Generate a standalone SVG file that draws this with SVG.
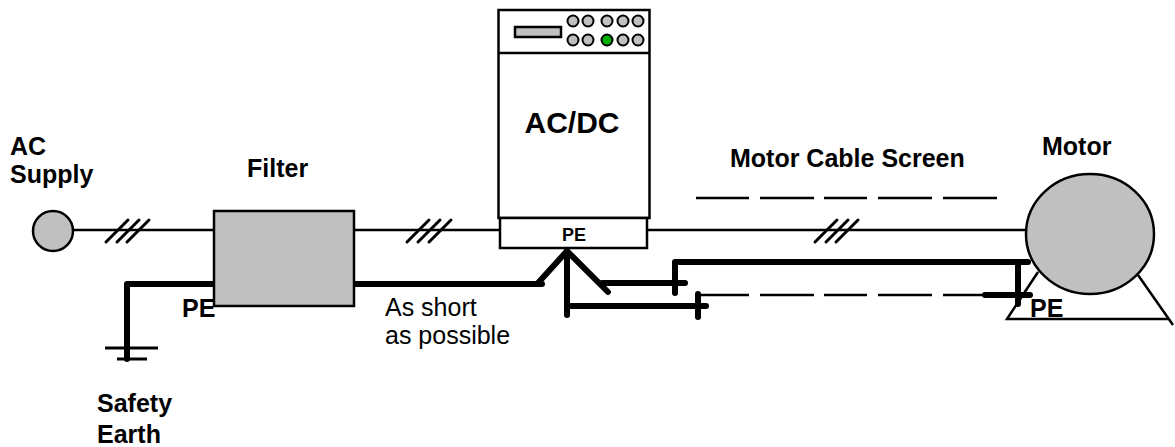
<svg xmlns="http://www.w3.org/2000/svg" width="1175" height="447" viewBox="0 0 1175 447">
<style>
.lbl{font-family:"Liberation Sans",Arial,sans-serif;font-weight:bold;font-size:25px;fill:#000}
.note{font-family:"Liberation Sans",Arial,sans-serif;font-size:25px;fill:#000}
.thin{stroke:#000;stroke-width:2.5;fill:none}
.thick{stroke:#000;stroke-width:6;fill:none;stroke-linecap:round;stroke-linejoin:round}
.hash{stroke:#000;stroke-width:3;stroke-linecap:round}
.box{stroke:#000;stroke-width:2.5}
.led{fill:#c0c0c0;stroke:#000;stroke-width:2}
</style>
<rect width="1175" height="447" fill="#fff"/>
<g id="connectors">
  <line class="thin" x1="74" y1="230" x2="214" y2="230"/>
  <line class="thin" x1="354" y1="230" x2="500" y2="230"/>
  <line class="thin" x1="647" y1="230" x2="1026" y2="230"/>
  <g id="hash1">
    <line class="hash" x1="106" y1="242" x2="128" y2="220"/>
    <line class="hash" x1="117" y1="242" x2="139" y2="220"/>
    <line class="hash" x1="127" y1="242" x2="149" y2="220"/>
  </g>
  <g id="hash2">
    <line class="hash" x1="407" y1="242" x2="429" y2="220"/>
    <line class="hash" x1="418" y1="242" x2="440" y2="220"/>
    <line class="hash" x1="429" y1="242" x2="451" y2="220"/>
  </g>
  <g id="hash3">
    <line class="hash" x1="815" y1="242" x2="837" y2="220"/>
    <line class="hash" x1="826" y1="242" x2="848" y2="220"/>
    <line class="hash" x1="836" y1="242" x2="858" y2="220"/>
  </g>
  <path class="thin" d="M696 198H749M760 198H814M824 198H867M878 198H932M943 198H997" stroke-width="3"/>
  <path class="thin" d="M698 295H749M760 295H814M824 295H867M878 295H932M943 295H985"/>
  <path class="thick" d="M127 359V284H214"/>
  <path class="thick" d="M354 284H542"/>
  <path class="thick" d="M538 283L567 251L608 292"/>
  <path class="thick" d="M567 251V315"/>
  <path class="thick" d="M567 306H706"/>
  <path class="thick" d="M698 294V317"/>
  <path class="thick" d="M602 283H685"/>
  <path class="thick" d="M675 293V262H1028"/>
  <path class="thick" d="M1018 262V304"/>
  <path class="thick" d="M985 295H1030"/>
</g>
<g id="safety-earth">
  <line x1="105" y1="348" x2="158" y2="348" stroke="#000" stroke-width="3"/>
  <line x1="117" y1="359" x2="147" y2="359" stroke="#000" stroke-width="3"/>
  <text class="lbl" x="97" y="412">Safety</text>
  <text class="lbl" x="97" y="443">Earth</text>
</g>
<g id="ac-supply">
  <circle cx="53" cy="231" r="20" fill="#c0c0c0" class="box"/>
  <text class="lbl" x="10" y="155">AC</text>
  <text class="lbl" x="10" y="183">Supply</text>
</g>
<g id="filter">
  <rect x="214" y="211" width="140" height="95" fill="#c0c0c0" class="box"/>
  <text class="lbl" x="247" y="177">Filter</text>
  <text class="lbl" x="182" y="317">PE</text>
</g>
<g id="drive">
  <rect x="498.5" y="10" width="151" height="208" fill="#fff" class="box"/>
  <line x1="498.5" y1="53" x2="649.5" y2="53" class="box"/>
  <rect x="515" y="27" width="46" height="10" fill="#c0c0c0" stroke="#000" stroke-width="2.5"/>
  <circle class="led" cx="573" cy="21" r="5.5"/>
  <circle class="led" cx="588" cy="21" r="5.5"/>
  <circle class="led" cx="607" cy="21" r="5.5"/>
  <circle class="led" cx="623" cy="21" r="5.5"/>
  <circle class="led" cx="638" cy="21" r="5.5"/>
  <circle class="led" cx="573" cy="40" r="5.5"/>
  <circle class="led" cx="588" cy="40" r="5.5"/>
  <circle class="led" cx="607" cy="40" r="5.5" style="fill:#00b000"/>
  <circle class="led" cx="623" cy="40" r="5.5"/>
  <circle class="led" cx="638" cy="40" r="5.5"/>
  <text class="lbl" x="572" y="133" text-anchor="middle" style="font-size:30px">AC/DC</text>
  <rect x="500" y="218" width="147" height="30" fill="#fff" class="box"/>
  <text class="lbl" x="574" y="241" text-anchor="middle" style="font-size:18px">PE</text>
</g>
<g id="motor">
  <path class="thin" d="M1038 272L1007 319H1168M1138 275L1173 325"/>
  <ellipse cx="1090" cy="234" rx="64" ry="60" fill="#c0c0c0" class="box"/>
  <text class="lbl" x="1042" y="155">Motor</text>
  <text class="lbl" x="1030" y="317">PE</text>
</g>
<g id="labels">
  <text class="lbl" x="730" y="167">Motor Cable Screen</text>
  <text class="note" x="385" y="316">As short</text>
  <text class="note" x="385" y="344">as possible</text>
</g>
</svg>
